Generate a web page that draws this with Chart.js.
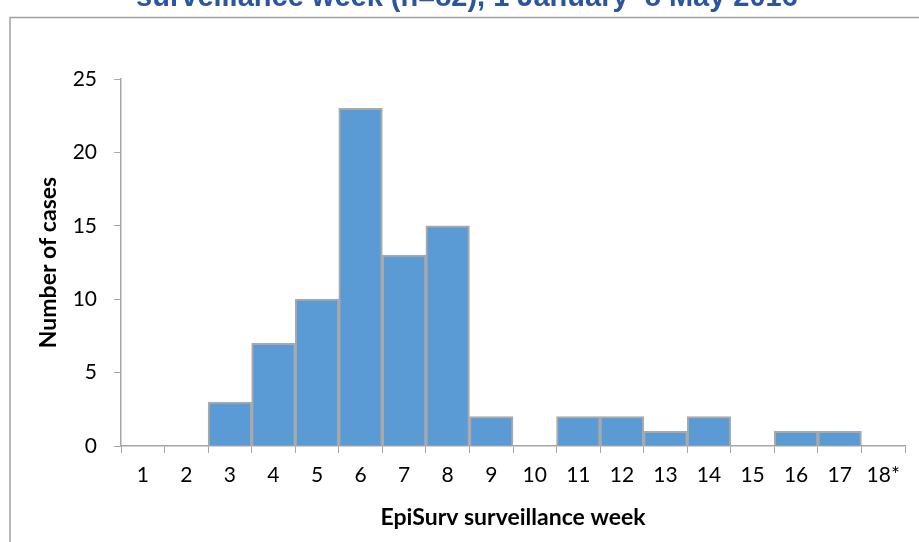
<!DOCTYPE html>
<html>
<head>
<meta charset="utf-8">
<script src="https://cdn.jsdelivr.net/npm/chart.js@4.4.1/dist/chart.umd.min.js"></script>
<style>
  html, body { margin: 0; padding: 0; background: #ffffff; }
  #wrap { position: relative; width: 919px; height: 542px; }
</style>
</head>
<body>
<div id="wrap"><canvas id="c" width="919" height="542"></canvas></div>
<script>
// ---- data ----
const weeks = ["1", "2", "3", "4", "5", "6", "7", "8", "9", "10", "11", "12", "13", "14", "15", "16", "17", "18*"];
const cases = [0, 0, 3, 7, 10, 23, 13, 15, 2, 0, 2, 2, 1, 2, 0, 1, 1, 0];
const titleText = "surveillance week (n=82), 1 January\u20138 May 2016";
const xTitle = "EpiSurv surveillance week";
const yTitle = "Number of cases";
const yMax = 25;
const yStep = 5;

const axisGray = "#A6A6A6";
const tickFont = { family: "Lato, 'Open Sans', sans-serif", size: 21 };
const titleFont = { family: "Lato, 'Open Sans', sans-serif", size: 23, weight: "bold" };

const decor = {
  id: "decor",
  beforeDraw(chart) {
    const ctx = chart.ctx;
    ctx.save();
    ctx.strokeStyle = "#A0A0A0";
    ctx.lineWidth = 1.5;
    ctx.strokeRect(10, 17.5, 1200, 1200);
    ctx.restore();
  },
  afterDraw(chart) {
    const ctx = chart.ctx;
    ctx.save();
    ctx.fillStyle = "#2B55A0";
    ctx.font = "bold 29px 'Liberation Sans', Arial, sans-serif";
    ctx.textAlign = "center";
    ctx.textBaseline = "alphabetic";
    ctx.fillText(titleText, 467, 6);
    ctx.restore();
  }
};

new Chart(document.getElementById("c"), {
  type: "bar",
  data: {
    labels: weeks,
    datasets: [{
      data: cases,
      backgroundColor: "#5B9BD5",
      borderColor: "#A9A9A9",
      borderWidth: 2,
      barPercentage: 1,
      categoryPercentage: 1
    }]
  },
  options: {
    responsive: false,
    animation: false,
    layout: { padding: { left: 0, right: 14, top: 79, bottom: 0 } },
    plugins: { legend: { display: false }, tooltip: { enabled: false } },
    scales: {
      x: {
        offset: true,
        grid: { offset: true, drawOnChartArea: false, drawTicks: true, tickLength: 7, color: axisGray, lineWidth: 1 },
        border: { display: true, color: axisGray, width: 1.5 },
        ticks: { color: "#000", font: tickFont, padding: 10, maxRotation: 0, autoSkip: false },
        title: { display: true, text: xTitle, color: "#000", font: titleFont, padding: { top: 0, bottom: 11 } },
        afterFit(scale) { scale.height = 96; }
      },
      y: {
        min: 0,
        max: yMax,
        grid: { drawOnChartArea: false, drawTicks: true, tickLength: 7, color: axisGray, lineWidth: 1 },
        border: { display: true, color: axisGray, width: 1.5 },
        ticks: { stepSize: yStep, color: "#000", font: tickFont, padding: 17 },
        title: { display: true, text: yTitle, color: "#000", font: titleFont, padding: { top: 35, bottom: 0 } },
        afterFit(scale) { scale.width = 121; }
      }
    }
  },
  plugins: [decor]
});
</script>
</body>
</html>
